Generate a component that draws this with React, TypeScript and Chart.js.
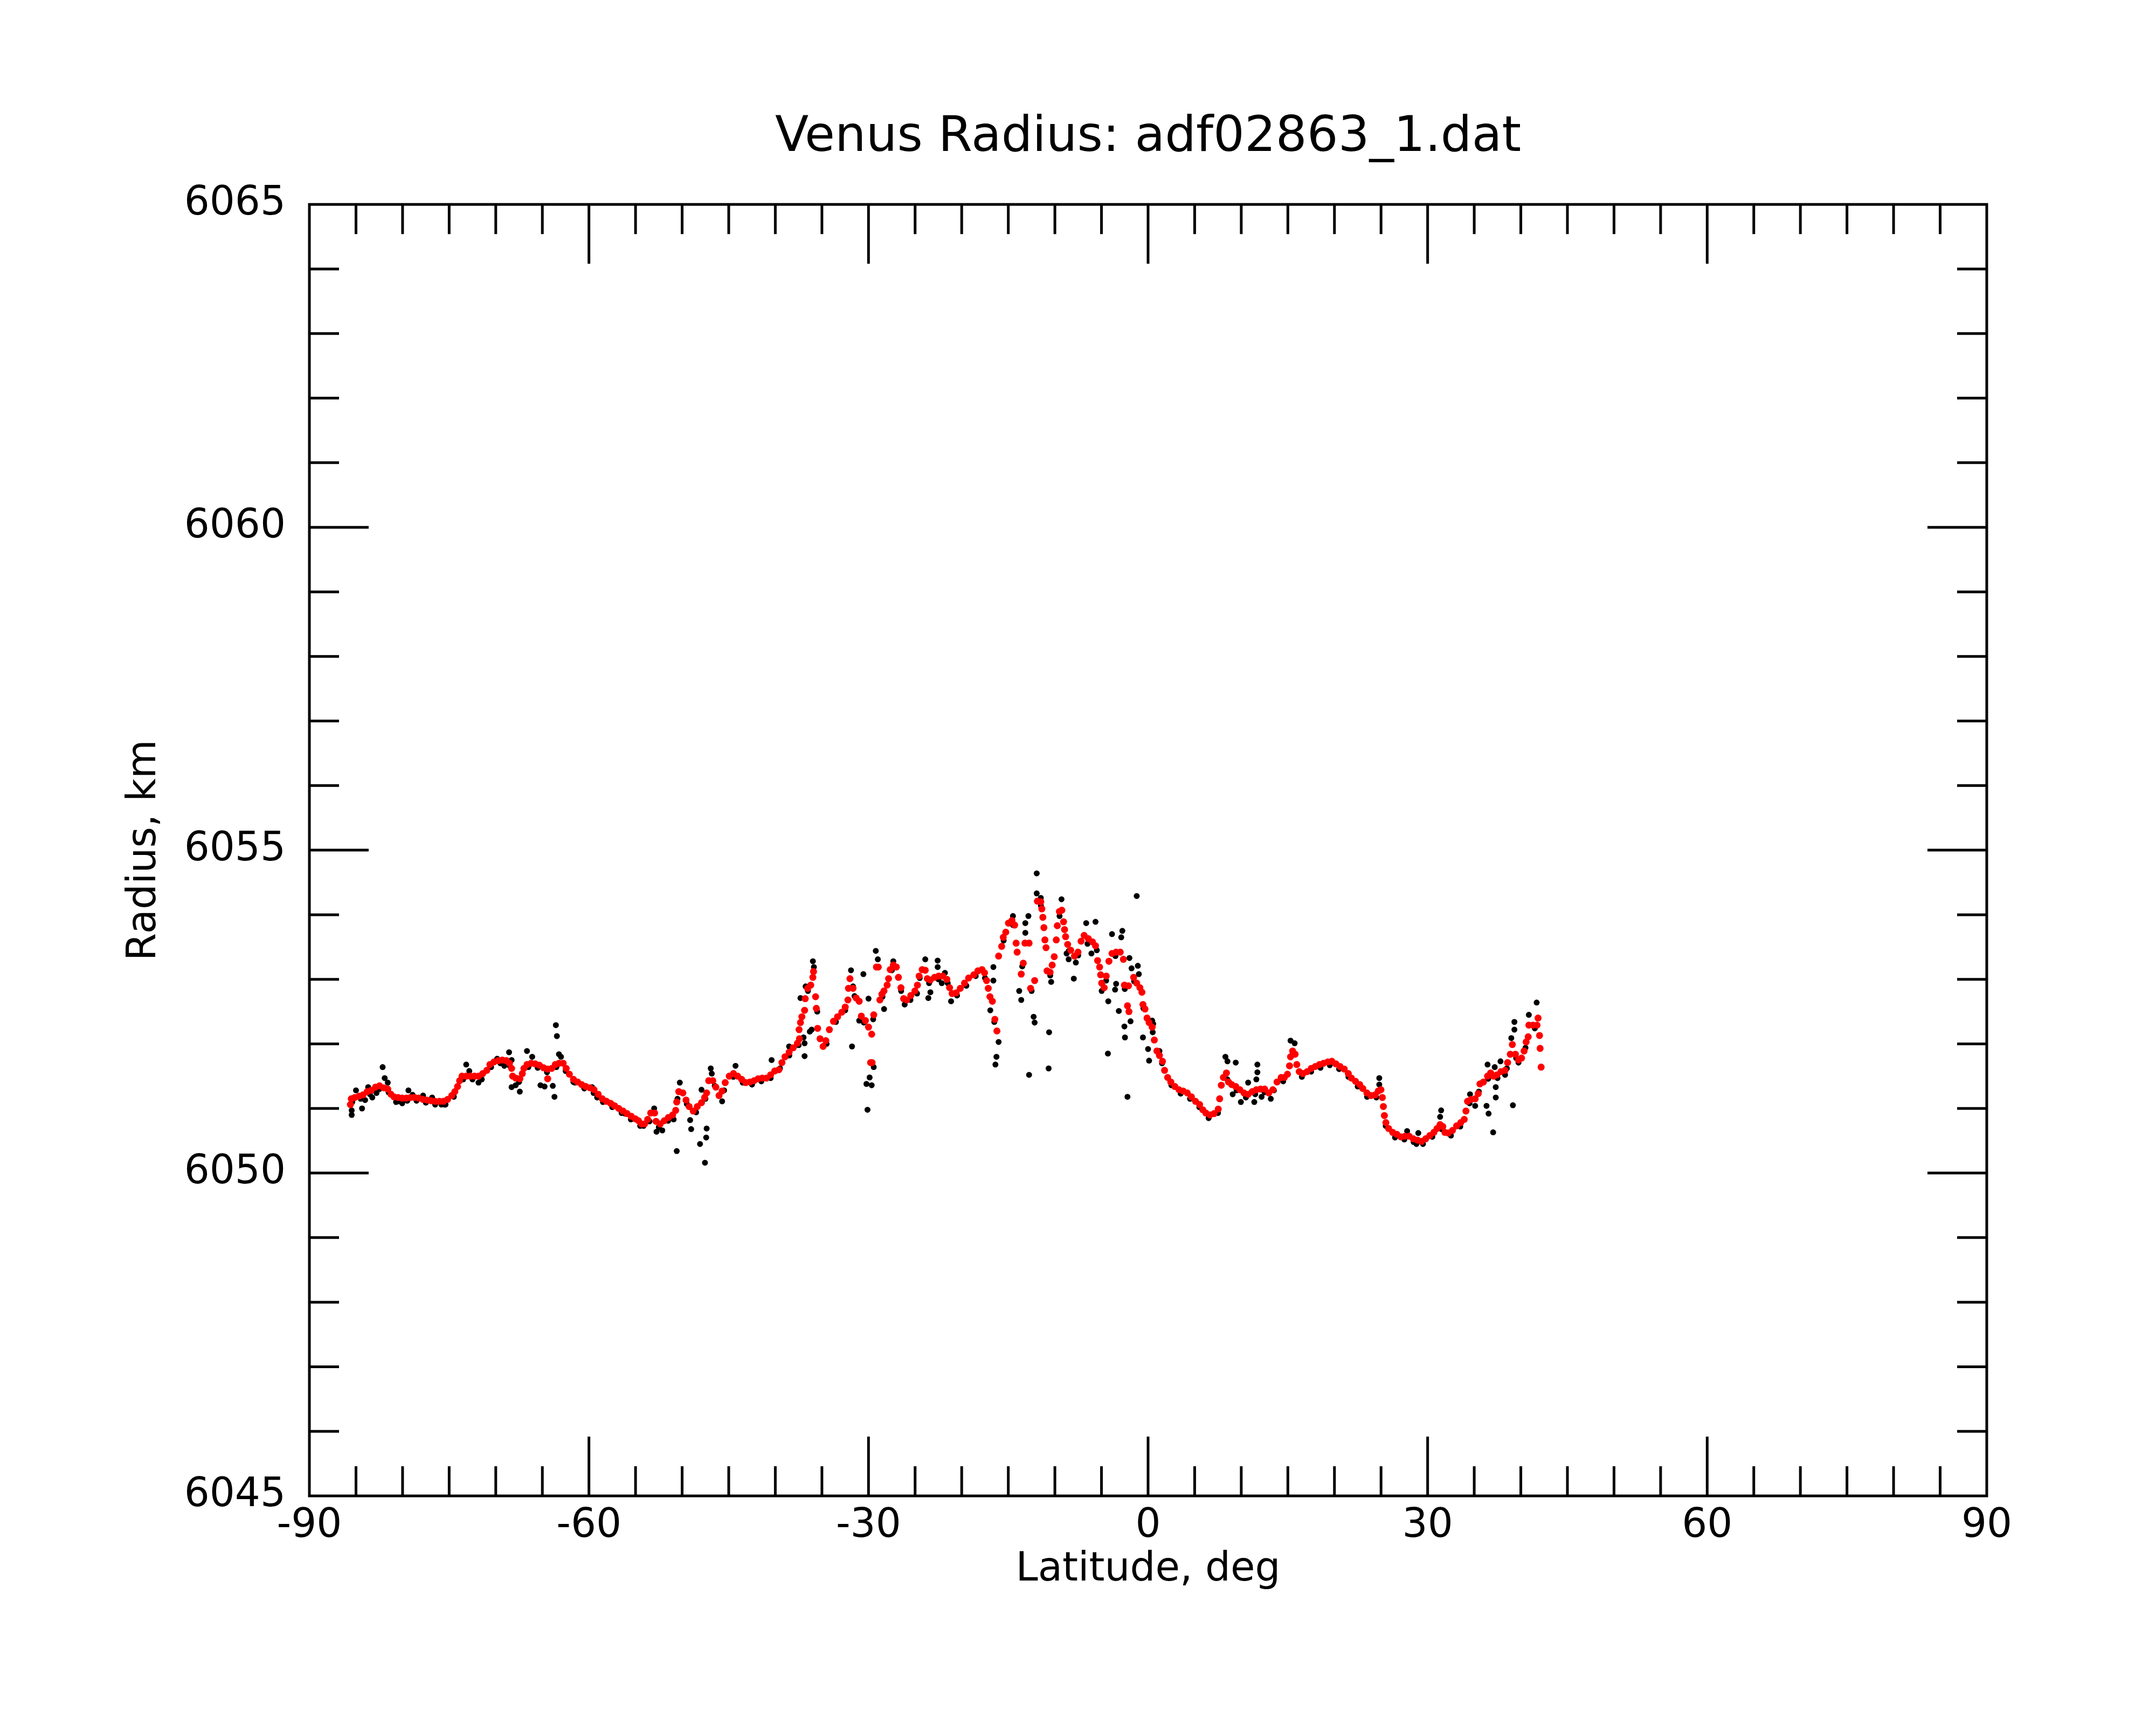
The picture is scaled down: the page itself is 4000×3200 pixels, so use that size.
import { useEffect, useRef } from 'react';
import Chart from 'chart.js/auto';

const TITLE = 'Venus Radius: adf02863_1.dat';
const X_TITLE = 'Latitude, deg';
const Y_TITLE = 'Radius, km';

const X_TICKS = [-90, -60, -30, 0, 30, 60, 90];
const Y_TICKS = [6045, 6050, 6055, 6060, 6065];
const X_MINOR_STEP = 5;
const Y_MINOR_STEP = 1;

// smoothed radius (red), [latitude deg, radius km]
const SMOOTHED: [number, number][] = [
  [-85.6, 6051.06], [-85.5, 6051.15], [-85.13, 6051.17], [-84.68, 6051.19], [-84.24, 6051.21],
  [-83.8, 6051.26], [-83.36, 6051.28], [-82.91, 6051.33], [-82.47, 6051.35], [-82.03, 6051.32],
  [-81.59, 6051.3], [-81.25, 6051.22], [-80.92, 6051.18], [-80.48, 6051.17], [-80.04, 6051.16],
  [-79.59, 6051.16], [-79.15, 6051.17], [-78.71, 6051.17], [-78.27, 6051.16], [-77.82, 6051.14],
  [-77.38, 6051.13], [-76.94, 6051.12], [-76.5, 6051.11], [-76.05, 6051.11], [-75.61, 6051.11],
  [-75.17, 6051.14], [-74.72, 6051.2], [-74.39, 6051.26], [-74.1, 6051.34], [-73.88, 6051.43],
  [-73.62, 6051.5], [-73.17, 6051.5], [-72.73, 6051.5], [-72.29, 6051.5], [-71.85, 6051.5],
  [-71.4, 6051.54], [-70.96, 6051.59], [-70.63, 6051.68], [-70.19, 6051.72], [-69.74, 6051.74],
  [-69.3, 6051.75], [-68.86, 6051.74], [-68.53, 6051.7], [-68.3, 6051.62], [-68.19, 6051.5],
  [-67.86, 6051.47], [-67.42, 6051.46], [-67.15, 6051.54], [-66.98, 6051.62], [-66.65, 6051.68],
  [-66.2, 6051.7], [-65.76, 6051.69], [-65.32, 6051.67], [-64.87, 6051.63], [-64.43, 6051.61],
  [-64.43, 6051.46], [-63.99, 6051.62], [-63.61, 6051.68], [-63.21, 6051.7], [-62.77, 6051.7],
  [-62.44, 6051.62], [-62.1, 6051.53], [-61.66, 6051.45], [-61.22, 6051.41], [-60.78, 6051.37],
  [-60.34, 6051.34], [-59.89, 6051.32], [-59.45, 6051.29], [-59.01, 6051.22], [-58.57, 6051.15],
  [-58.12, 6051.11], [-57.68, 6051.08], [-57.24, 6051.04], [-56.8, 6051.0], [-56.35, 6050.96],
  [-55.91, 6050.92], [-55.47, 6050.88], [-55.03, 6050.84], [-54.69, 6050.81], [-54.36, 6050.76],
  [-54.03, 6050.76], [-53.7, 6050.83], [-53.37, 6050.93], [-52.95, 6050.93], [-52.8, 6050.8],
  [-52.35, 6050.76], [-51.91, 6050.81], [-51.47, 6050.86], [-51.02, 6050.9], [-50.69, 6050.97],
  [-50.58, 6051.1], [-50.36, 6051.26], [-49.92, 6051.24], [-49.58, 6051.13], [-49.25, 6051.03],
  [-48.81, 6050.96], [-48.37, 6051.03], [-47.92, 6051.09], [-47.59, 6051.17], [-47.37, 6051.24],
  [-47.15, 6051.43], [-46.71, 6051.43], [-46.38, 6051.33], [-46.04, 6051.2], [-45.71, 6051.27],
  [-45.38, 6051.4], [-44.94, 6051.5], [-44.49, 6051.54], [-44.05, 6051.5], [-43.61, 6051.45],
  [-43.17, 6051.4], [-42.72, 6051.41], [-42.28, 6051.43], [-41.84, 6051.46], [-41.4, 6051.47],
  [-40.95, 6051.47], [-40.51, 6051.52], [-40.07, 6051.58], [-39.62, 6051.6], [-39.29, 6051.71],
  [-38.96, 6051.8], [-38.52, 6051.87], [-38.08, 6051.94], [-37.63, 6052.01], [-37.41, 6052.08],
  [-37.45, 6052.22], [-37.3, 6052.33], [-37.15, 6052.42], [-36.86, 6052.52], [-36.79, 6052.7],
  [-36.53, 6052.86], [-36.2, 6052.91], [-35.97, 6053.03], [-35.9, 6053.12], [-35.68, 6052.73],
  [-35.6, 6052.55], [-35.46, 6052.24], [-35.2, 6052.08], [-34.87, 6051.96], [-34.58, 6052.05],
  [-34.2, 6052.22], [-33.76, 6052.35], [-33.32, 6052.42], [-32.87, 6052.49], [-32.5, 6052.57],
  [-32.21, 6052.68], [-32.15, 6052.86], [-31.99, 6053.01], [-31.66, 6052.86], [-31.32, 6052.71],
  [-31.0, 6052.66], [-30.77, 6052.43], [-30.33, 6052.36], [-30.0, 6052.26], [-29.66, 6052.15],
  [-29.77, 6051.71], [-29.62, 6051.71], [-29.44, 6052.45], [-29.15, 6053.19], [-28.95, 6053.19],
  [-28.78, 6052.68], [-28.56, 6052.77], [-28.34, 6052.82], [-28.0, 6052.91], [-27.85, 6053.01],
  [-27.67, 6053.15], [-27.34, 6053.22], [-27.01, 6053.19], [-26.79, 6053.03], [-26.52, 6052.87],
  [-26.23, 6052.7], [-25.9, 6052.68], [-25.46, 6052.75], [-25.02, 6052.82], [-24.75, 6052.91],
  [-24.57, 6053.05], [-24.24, 6053.15], [-23.91, 6053.14], [-23.69, 6053.01], [-23.36, 6052.99],
  [-22.91, 6053.03], [-22.47, 6053.05], [-22.03, 6053.05], [-21.59, 6053.0], [-21.3, 6052.87],
  [-21.03, 6052.78], [-20.59, 6052.79], [-20.15, 6052.86], [-19.7, 6052.94], [-19.26, 6053.02],
  [-18.7, 6053.07], [-18.26, 6053.13], [-17.82, 6053.15], [-17.55, 6053.1], [-17.33, 6052.98],
  [-17.15, 6052.86], [-16.97, 6052.73], [-16.71, 6052.66], [-16.44, 6052.38], [-16.22, 6052.2],
  [-16.04, 6053.36], [-15.71, 6053.51], [-15.54, 6053.65], [-15.27, 6053.73], [-14.98, 6053.87],
  [-14.61, 6053.91], [-14.32, 6053.84], [-14.16, 6053.56], [-14.05, 6053.42], [-13.61, 6053.08],
  [-13.39, 6053.25], [-13.21, 6053.56], [-12.77, 6053.56], [-12.61, 6052.86], [-12.17, 6052.98],
  [-11.88, 6054.21], [-11.51, 6054.2], [-11.4, 6054.09], [-11.29, 6053.96], [-11.18, 6053.8],
  [-11.07, 6053.61], [-10.95, 6053.49], [-10.84, 6053.13], [-10.51, 6053.11], [-10.29, 6053.22],
  [-10.07, 6053.35], [-9.85, 6053.61], [-9.74, 6053.83], [-9.52, 6054.05], [-9.25, 6054.07],
  [-9.07, 6053.89], [-8.96, 6053.77], [-8.85, 6053.66], [-8.63, 6053.54], [-8.3, 6053.45],
  [-7.9, 6053.36], [-7.52, 6053.42], [-7.19, 6053.59], [-6.86, 6053.68], [-6.42, 6053.63],
  [-5.97, 6053.58], [-5.64, 6053.52], [-5.42, 6053.29], [-5.2, 6053.19], [-5.09, 6053.07],
  [-4.98, 6052.94], [-4.71, 6052.87], [-4.49, 6053.05], [-4.2, 6053.28], [-3.87, 6053.4],
  [-3.43, 6053.42], [-2.99, 6053.42], [-2.65, 6053.31], [-2.54, 6052.91], [-2.1, 6052.9],
  [-2.21, 6052.59], [-2.05, 6052.5], [-1.55, 6053.03], [-1.22, 6052.94], [-0.88, 6052.87],
  [-0.66, 6052.8], [-0.55, 6052.61], [-0.33, 6052.54], [-0.11, 6052.4], [0.11, 6052.33],
  [0.44, 6052.26], [0.67, 6052.06], [0.95, 6051.89], [1.22, 6051.82], [1.55, 6051.73],
  [1.77, 6051.59], [2.1, 6051.48], [2.44, 6051.41], [2.88, 6051.34], [3.32, 6051.29],
  [3.76, 6051.27], [4.21, 6051.24], [4.65, 6051.18], [5.09, 6051.11], [5.53, 6051.06],
  [5.87, 6050.98], [6.2, 6050.93], [6.64, 6050.9], [7.08, 6050.92], [7.53, 6050.99],
  [7.68, 6051.15], [7.86, 6051.36], [8.08, 6051.48], [8.41, 6051.55], [8.63, 6051.41],
  [8.97, 6051.37], [9.41, 6051.34], [9.85, 6051.29], [10.29, 6051.24], [10.74, 6051.22],
  [11.18, 6051.26], [11.62, 6051.29], [12.07, 6051.3], [12.51, 6051.3], [12.95, 6051.24],
  [13.39, 6051.29], [13.84, 6051.41], [14.28, 6051.48], [14.63, 6051.48], [14.96, 6051.53],
  [15.18, 6051.66], [15.29, 6051.8], [15.51, 6051.89], [15.78, 6051.84], [15.96, 6051.68],
  [16.22, 6051.57], [16.62, 6051.54], [17.06, 6051.57], [17.51, 6051.62], [17.95, 6051.65],
  [18.39, 6051.68], [18.83, 6051.7], [19.28, 6051.72], [19.72, 6051.73], [20.16, 6051.69],
  [20.6, 6051.65], [21.05, 6051.61], [21.49, 6051.54], [21.82, 6051.47], [22.26, 6051.42],
  [22.71, 6051.37], [23.04, 6051.31], [23.48, 6051.24], [23.92, 6051.2], [24.37, 6051.21],
  [24.7, 6051.27], [24.99, 6051.29], [25.14, 6051.17], [25.25, 6051.03], [25.36, 6050.89],
  [25.52, 6050.78], [25.81, 6050.69], [26.25, 6050.63], [26.69, 6050.6], [27.13, 6050.56],
  [27.58, 6050.57], [28.02, 6050.57], [28.46, 6050.53], [28.9, 6050.51], [29.35, 6050.49],
  [29.79, 6050.53], [30.23, 6050.58], [30.67, 6050.63], [31.01, 6050.69], [31.34, 6050.75],
  [31.63, 6050.72], [31.85, 6050.63], [32.22, 6050.62], [32.67, 6050.66], [33.11, 6050.73],
  [33.55, 6050.78], [33.93, 6050.83], [34.11, 6050.96], [34.28, 6051.11], [34.66, 6051.14],
  [35.1, 6051.15], [35.43, 6051.23], [35.61, 6051.38], [35.99, 6051.41], [36.43, 6051.5],
  [36.76, 6051.55], [37.09, 6051.5], [37.43, 6051.52], [37.87, 6051.57], [38.31, 6051.59],
  [38.58, 6051.71], [38.87, 6051.84], [39.09, 6051.99], [39.42, 6051.84], [39.75, 6051.75],
  [40.08, 6051.78], [40.35, 6051.89], [40.57, 6052.03], [40.79, 6052.11], [40.86, 6052.29],
  [41.3, 6052.29], [41.74, 6052.29], [41.85, 6052.4], [42.01, 6052.13], [42.07, 6051.93],
  [42.18, 6051.64],
];

// raw samples sitting just under the smoothed track (black)
const RAW_TRACK: [number, number][] = [
  [-85.4, 6051.1], [-84.5, 6051.15], [-83.5, 6051.22], [-82.5, 6051.3], [-81.5, 6051.25],
  [-80.5, 6051.11], [-79.5, 6051.12], [-78.5, 6051.12], [-77.5, 6051.09], [-76.5, 6051.06],
  [-75.5, 6051.06], [-74.5, 6051.18], [-73.5, 6051.45], [-72.5, 6051.45], [-71.5, 6051.45],
  [-70.5, 6051.64], [-69.5, 6051.7], [-68.5, 6051.66], [-67.5, 6051.41], [-66.5, 6051.64],
  [-65.5, 6051.63], [-64.5, 6051.56], [-63.5, 6051.64], [-62.5, 6051.58], [-61.5, 6051.4],
  [-60.5, 6051.31], [-59.5, 6051.24], [-58.5, 6051.1], [-57.5, 6051.02], [-56.5, 6050.93],
  [-55.5, 6050.83], [-54.5, 6050.73], [-53.5, 6050.8], [-52.5, 6050.71], [-51.5, 6050.81],
  [-50.5, 6051.15], [-49.5, 6051.07], [-48.5, 6050.94], [-47.5, 6051.15], [-46.5, 6051.35],
  [-45.5, 6051.28], [-44.5, 6051.49], [-43.5, 6051.4], [-42.5, 6051.37], [-41.5, 6051.42],
  [-40.5, 6051.47], [-39.5, 6051.62], [-38.5, 6051.82], [-37.5, 6051.98], [-36.5, 6052.82],
  [-35.5, 6052.5], [-34.5, 6052.0], [-33.5, 6052.34], [-32.5, 6052.52], [-31.5, 6052.74],
  [-30.5, 6052.33], [-29.5, 6052.38], [-28.5, 6052.73], [-27.5, 6053.14], [-26.5, 6052.82],
  [-25.5, 6052.68], [-24.5, 6053.02], [-23.5, 6052.94], [-22.5, 6053.0], [-21.5, 6052.94],
  [-20.5, 6052.75], [-19.5, 6052.9], [-18.5, 6053.05], [-17.5, 6053.02], [-16.5, 6052.34],
  [-15.5, 6053.6], [-14.5, 6053.84], [-13.5, 6053.2], [-12.5, 6052.82], [-11.5, 6054.14],
  [-10.5, 6053.06], [-9.5, 6053.98], [-8.5, 6053.44], [-7.5, 6053.37], [-6.5, 6053.55],
  [-5.5, 6053.45], [-4.5, 6052.98], [-3.5, 6053.36], [-2.5, 6052.85], [-1.5, 6052.97],
  [-0.5, 6052.55], [0.5, 6052.18], [1.5, 6051.7], [2.5, 6051.36], [3.5, 6051.23],
  [4.5, 6051.15], [5.5, 6051.02], [6.5, 6050.85], [7.5, 6050.93], [8.5, 6051.45],
  [9.5, 6051.28], [10.5, 6051.17], [11.5, 6051.22], [12.5, 6051.25], [13.5, 6051.28],
  [14.5, 6051.42], [15.5, 6051.84], [16.5, 6051.49], [17.5, 6051.57], [18.5, 6051.63],
  [19.5, 6051.67], [20.5, 6051.61], [21.5, 6051.49], [22.5, 6051.34], [23.5, 6051.18],
  [24.5, 6051.17], [25.5, 6050.73], [26.5, 6050.55], [27.5, 6050.52], [28.5, 6050.48],
  [29.5, 6050.45], [30.5, 6050.56], [31.5, 6050.68], [32.5, 6050.58], [33.5, 6050.72],
  [34.5, 6051.08], [35.5, 6051.26], [36.5, 6051.46], [37.5, 6051.47], [38.5, 6051.62],
  [39.5, 6051.78], [40.5, 6051.94], [41.5, 6052.24],
];

// raw samples scattered away from the track (black)
const RAW_SPIKES: [number, number][] = [
  [-85.46, 6050.9], [-85.46, 6050.97], [-85.0, 6051.28], [-84.35, 6051.0], [-84.02, 6051.13],
  [-83.69, 6051.33], [-83.25, 6051.17], [-82.8, 6051.24], [-82.14, 6051.64], [-81.92, 6051.47],
  [-81.59, 6051.4], [-80.7, 6051.1], [-80.04, 6051.08], [-79.37, 6051.28], [-78.93, 6051.21],
  [-77.8, 6051.2], [-76.83, 6051.17], [-75.83, 6051.06], [-75.39, 6051.06], [-73.17, 6051.68],
  [-72.84, 6051.58], [-71.85, 6051.4], [-69.85, 6051.77], [-69.08, 6051.66], [-68.57, 6051.87],
  [-68.3, 6051.75], [-68.3, 6051.33], [-67.86, 6051.36], [-67.42, 6051.26], [-66.65, 6051.89],
  [-66.09, 6051.8], [-65.2, 6051.36], [-64.76, 6051.34], [-63.88, 6051.35], [-63.7, 6051.18],
  [-63.55, 6052.29], [-63.44, 6052.12], [-63.22, 6051.84], [-63.0, 6051.8], [-61.67, 6051.41],
  [-59.67, 6051.33], [-59.12, 6051.17], [-57.46, 6051.06], [-56.13, 6050.92], [-54.8, 6050.82],
  [-54.14, 6050.73], [-53.0, 6051.0], [-52.75, 6050.64], [-52.13, 6050.66], [-50.91, 6050.83],
  [-50.58, 6050.34], [-50.25, 6051.4], [-49.14, 6050.82], [-49.03, 6050.68], [-47.92, 6051.29],
  [-47.37, 6050.69], [-47.42, 6050.55], [-48.08, 6050.45], [-47.55, 6050.16], [-46.93, 6051.62],
  [-46.82, 6051.54], [-45.71, 6051.11], [-44.27, 6051.66], [-40.4, 6051.75], [-38.52, 6051.96],
  [-36.97, 6052.1], [-36.86, 6052.01], [-36.86, 6051.81], [-37.3, 6052.71], [-36.75, 6052.89],
  [-35.97, 6053.28], [-35.86, 6053.19], [-36.3, 6052.19], [-36.1, 6052.22], [-31.88, 6053.14],
  [-31.66, 6052.89], [-31.77, 6051.96], [-30.55, 6053.08], [-30.0, 6052.7], [-31.0, 6052.36],
  [-30.22, 6051.38], [-29.88, 6051.48], [-29.66, 6051.36], [-29.44, 6051.64], [-30.11, 6050.98],
  [-29.22, 6053.44], [-29.0, 6053.31], [-28.33, 6052.54], [-27.34, 6053.28], [-26.12, 6052.61],
  [-25.45, 6052.75], [-24.79, 6052.78], [-23.91, 6053.31], [-23.58, 6052.71], [-23.36, 6052.8],
  [-22.58, 6053.29], [-22.58, 6053.19], [-22.14, 6052.94], [-21.8, 6053.1], [-21.14, 6052.66],
  [-11.95, 6054.64], [-11.95, 6054.33], [-11.51, 6054.26], [-9.29, 6054.24], [-14.5, 6053.98],
  [-12.84, 6053.98], [-13.17, 6053.87], [-13.17, 6053.72], [-1.22, 6054.29], [-6.64, 6053.87],
  [-5.64, 6053.89], [-3.87, 6053.7], [-2.76, 6053.75], [-2.88, 6053.65], [-16.6, 6053.19],
  [-16.6, 6052.98], [-16.93, 6052.52], [-16.04, 6052.03], [-16.27, 6051.8], [-16.38, 6051.68],
  [-13.83, 6052.82], [-13.61, 6052.68], [-12.28, 6052.42], [-12.17, 6052.33], [-12.77, 6051.52],
  [-10.62, 6052.18], [-10.67, 6051.62], [-10.4, 6052.96], [-7.97, 6053.01], [-8.74, 6053.4],
  [-8.52, 6053.31], [-7.75, 6053.26], [-6.08, 6053.4], [-4.31, 6051.85], [-4.27, 6052.66],
  [-4.98, 6052.82], [-3.43, 6052.93], [-3.54, 6052.84], [-3.14, 6052.51], [-2.54, 6052.27],
  [-1.88, 6052.35], [-2.48, 6052.1], [-2.21, 6051.18], [-2.0, 6053.33], [-1.77, 6053.17],
  [-1.1, 6053.21], [-0.99, 6053.08], [-0.55, 6052.1], [0.0, 6051.92], [0.11, 6051.74],
  [0.44, 6052.36], [0.55, 6052.31], [1.22, 6051.89], [8.3, 6051.8], [8.52, 6051.73],
  [9.41, 6051.71], [9.08, 6051.22], [9.96, 6051.1], [10.74, 6051.4], [11.4, 6051.1],
  [11.73, 6051.68], [11.73, 6051.56], [11.62, 6051.45], [12.18, 6051.18], [13.17, 6051.15],
  [15.29, 6052.05], [15.73, 6052.01], [24.81, 6051.47], [24.81, 6051.37], [27.8, 6050.65],
  [29.0, 6050.62], [28.8, 6050.45], [31.45, 6050.97], [31.34, 6050.87], [34.55, 6051.22],
  [35.1, 6051.04], [36.43, 6051.68], [36.32, 6051.04], [36.54, 6050.92], [37.03, 6050.63],
  [37.2, 6051.64], [37.31, 6051.33], [37.31, 6051.17], [37.82, 6051.73], [38.31, 6051.52],
  [38.98, 6052.09], [39.15, 6051.05], [39.31, 6052.34], [39.31, 6052.22], [40.86, 6052.45],
  [41.7, 6052.64], [39.75, 6051.71],
];

const FONT = 'DejaVu Sans';

const toXY = (pts: [number, number][]) => pts.map(([x, y]) => ({ x, y }));

// frame plus inward ticks on all four sides
const frameTicks = {
  id: 'frameTicks',
  afterDraw(chart: any) {
    const { ctx, chartArea: a, scales } = chart;
    const xs = scales.x;
    const ys = scales.y;
    ctx.save();
    ctx.strokeStyle = '#000';
    ctx.lineWidth = 5;
    ctx.lineCap = 'butt';
    ctx.beginPath();
    const x0 = X_TICKS[0];
    const x1 = X_TICKS[X_TICKS.length - 1];
    for (let v = x0 + X_MINOR_STEP; v < x1; v += X_MINOR_STEP) {
      const len = X_TICKS.includes(v) ? 110 : 55;
      const px = xs.getPixelForValue(v);
      ctx.moveTo(px, a.bottom);
      ctx.lineTo(px, a.bottom - len);
      ctx.moveTo(px, a.top);
      ctx.lineTo(px, a.top + len);
    }
    const y0 = Y_TICKS[0];
    const y1 = Y_TICKS[Y_TICKS.length - 1];
    for (let v = y0 + Y_MINOR_STEP; v < y1; v += Y_MINOR_STEP) {
      const len = Y_TICKS.includes(v) ? 110 : 55;
      const py = ys.getPixelForValue(v);
      ctx.moveTo(a.left, py);
      ctx.lineTo(a.left + len, py);
      ctx.moveTo(a.right, py);
      ctx.lineTo(a.right - len, py);
    }
    ctx.stroke();
    ctx.strokeRect(a.left, a.top, a.right - a.left, a.bottom - a.top);
    ctx.restore();
  },
};

const VenusRadiusChart = () => {
  const canvasRef = useRef<HTMLCanvasElement>(null);

  useEffect(() => {
    if (!canvasRef.current) return;
    const chart = new Chart(canvasRef.current, {
      type: 'scatter',
      data: {
        datasets: [
          {
            label: 'smoothed',
            data: toXY(SMOOTHED),
            backgroundColor: '#ff0000',
            pointRadius: 6.5,
            pointBorderWidth: 0,
            order: 0,
          },
          {
            label: 'raw',
            data: toXY(RAW_TRACK.concat(RAW_SPIKES)),
            backgroundColor: '#000000',
            pointRadius: 5.5,
            pointBorderWidth: 0,
            order: 1,
          },
        ],
      },
      options: {
        animation: false,
        responsive: true,
        maintainAspectRatio: false,
        devicePixelRatio: 1,
        layout: { padding: { left: 0, right: 314, top: 0, bottom: 0 } },
        plugins: {
          legend: { display: false },
          tooltip: { enabled: false },
          title: {
            display: true,
            text: TITLE,
            fullSize: false,
            color: '#000',
            font: { family: FONT, size: 91, weight: 'normal', lineHeight: 1.2 },
            padding: { top: 202, bottom: 68 },
          },
        },
        scales: {
          x: {
            type: 'linear',
            min: X_TICKS[0],
            max: X_TICKS[X_TICKS.length - 1],
            afterBuildTicks: (s: any) => {
              s.ticks = X_TICKS.map((value) => ({ value }));
            },
            afterFit: (s: any) => {
              s.height = 425;
            },
            grid: { display: false, drawTicks: false },
            border: { display: false },
            ticks: {
              autoSkip: false,
              maxRotation: 0,
              padding: 12,
              color: '#000',
              font: { family: FONT, size: 74 },
              callback: (v: any) => String(v),
            },
            title: {
              display: true,
              text: X_TITLE,
              color: '#000',
              font: { family: FONT, size: 74 },
              padding: { top: 0, bottom: 243 },
            },
          },
          y: {
            type: 'linear',
            min: Y_TICKS[0],
            max: Y_TICKS[Y_TICKS.length - 1],
            afterBuildTicks: (s: any) => {
              s.ticks = Y_TICKS.map((value) => ({ value }));
            },
            afterFit: (s: any) => {
              s.width = 574;
            },
            grid: { display: false, drawTicks: false },
            border: { display: false },
            ticks: {
              autoSkip: false,
              padding: 44,
              color: '#000',
              font: { family: FONT, size: 74 },
              callback: (v: any) => String(v),
            },
            title: {
              display: true,
              text: Y_TITLE,
              color: '#000',
              font: { family: FONT, size: 74 },
              padding: { top: 224, bottom: 0 },
            },
          },
        },
      },
      plugins: [frameTicks],
    });
    return () => chart.destroy();
  }, []);

  return (
    <div
      style={{
        position: 'fixed',
        left: 0,
        top: 0,
        width: 4000,
        height: 3200,
        background: '#fff',
      }}
    >
      <canvas ref={canvasRef}></canvas>
    </div>
  );
};

export default function App() {
  return <VenusRadiusChart />;
}
